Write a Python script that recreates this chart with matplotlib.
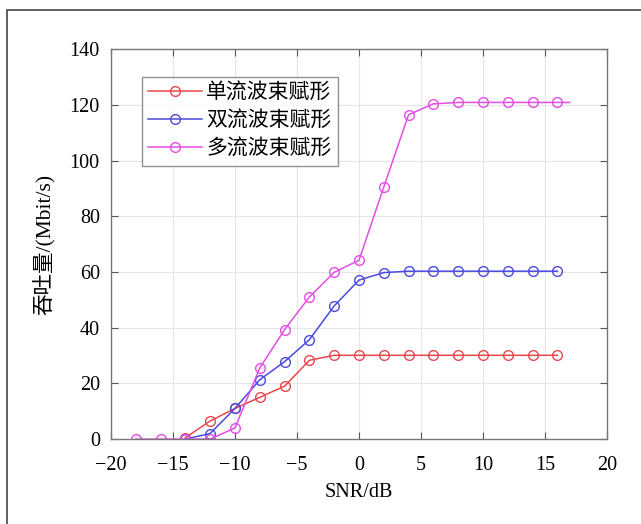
import matplotlib
matplotlib.use('Agg')
import matplotlib.pyplot as plt
from matplotlib.patches import Rectangle

# SNR (dB) and throughput (Mbit/s)
snr_single = [-14, -12, -10, -8, -6, -4, -2, 0, 2, 4, 6, 8, 10, 12, 14, 16]
tp_single = [0.5, 6.5, 11, 15, 19, 28.3, 30.1, 30.1, 30.1, 30.1, 30.1, 30.1, 30.1, 30.1, 30.1, 30.1]

snr_dual = [-14, -12, -10, -8, -6, -4, -2, 0, 2, 4, 6, 8, 10, 12, 14, 16]
tp_dual = [0, 2, 11, 21.3, 27.8, 35.7, 47.8, 57.1, 59.8, 60.3, 60.3, 60.3, 60.3, 60.3, 60.3, 60.3]

snr_multi = [-18, -16, -14, -12, -10, -8, -6, -4, -2, 0, 2, 4, 6, 8, 10, 12, 14, 16, 17]
tp_multi = [0, 0, 0, 0, 4, 25.5, 39.3, 51, 59.9, 64.2, 90.5, 116.5, 120.4, 120.9, 120.9, 120.9, 120.9, 120.9, 120.9]

labels = ['单流波束赋形', '双流波束赋形', '多流波束赋形']
colors = ['#e8474d', '#4a4ae0', '#e64ce6']

xticks = [-20, -15, -10, -5, 0, 5, 10, 15, 20]
xticklabels = ['\u221220', '\u221215', '\u221210', '\u22125', '0', '5', '10', '15', '20']
yticks = [0, 20, 40, 60, 80, 100, 120, 140]

plt.rcParams['font.family'] = ['Liberation Serif', 'Noto Sans CJK SC']

fig = plt.figure(figsize=(6.41, 5.24), dpi=100)
ax = fig.add_axes([0.173, 0.162, 0.774, 0.744])

# outer frame of the figure
fig.patches.append(Rectangle((7 / 641, -0.1), 1.2, 1.1 - 9.5 / 524,
                             transform=fig.transFigure, fill=False,
                             edgecolor='#444444', linewidth=1.2))

ms = 7
ax.plot(snr_single, tp_single, '-o', color=colors[0], markerfacecolor='none',
        markersize=ms, linewidth=1.1, markeredgewidth=1.0, label=labels[0])
ax.plot(snr_dual, tp_dual, '-o', color=colors[1], markerfacecolor='none',
        markersize=ms, linewidth=1.1, markeredgewidth=1.0, label=labels[1])
ax.plot(snr_multi, tp_multi, '-o', color=colors[2], markerfacecolor='none',
        markersize=ms, linewidth=1.1, markeredgewidth=1.0, label=labels[2],
        markevery=list(range(len(snr_multi) - 1)))

ax.set_xlim(-20, 20)
ax.set_ylim(0, 140)
ax.set_xticks(xticks)
ax.set_xticklabels(xticklabels)
ax.set_yticks(yticks)
ax.tick_params(direction='in', top=True, right=True, labelsize=14.5,
               length=5, color='#555555')
ax.tick_params(axis='x', pad=12)
ax.tick_params(axis='y', pad=8)
ax.grid(True, color='#e6e6e6', linewidth=0.8)
ax.set_axisbelow(True)
for s in ax.spines.values():
    s.set_color('#777777')
    s.set_linewidth(1.0)

ax.set_xlabel('SNR/dB', fontsize=14.5, labelpad=6)
ax.set_ylabel('吞吐量/(Mbit/s)', fontsize=15.5, labelpad=10)

leg = ax.legend(loc='upper left', bbox_to_anchor=(0.062, 0.928), fontsize=15,
                frameon=True, fancybox=False, edgecolor='#777777',
                handlelength=2.6, borderpad=0.3, labelspacing=0.38,
                handletextpad=0.2, borderaxespad=0)
leg.get_frame().set_linewidth(1.0)

fig.savefig('out.png', dpi=100)
